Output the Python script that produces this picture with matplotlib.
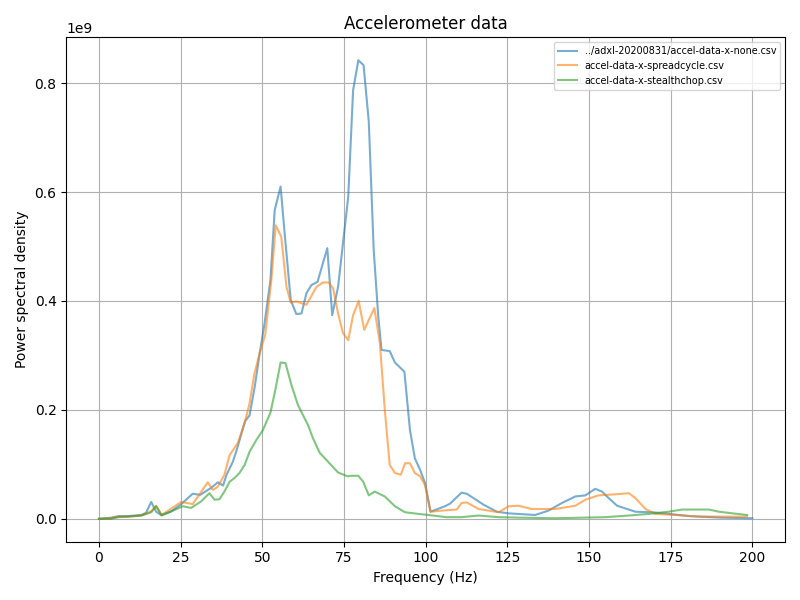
import numpy as np
import matplotlib
matplotlib.use("Agg")
import matplotlib.pyplot as plt

# values, PSD in units of 1e9
freq_none = [0, 3.7, 6, 9, 13, 14.4, 16, 17.5, 19, 22, 25, 28.7, 31, 34.4, 36.4, 38, 39, 41, 42.2,
             44.7, 46.1, 47.7, 49.2, 50.7, 52.5, 53.8, 55.6, 56.8, 58.7, 60.4, 62, 63.5, 65, 66.9,
             69.9, 71.4, 73.2, 74.7, 76.3, 77.8, 79.4, 81, 82.6, 84.1, 85.5, 86.5, 89, 90.6, 93.5,
             95.2, 96.7, 98.3, 99.8, 101.5, 105.9, 107.5, 111, 112.6, 117.7, 121.8, 125.4, 133.5,
             137.6, 141.7, 145.8, 148.9, 151.9, 154, 155.5, 158.6, 164.2, 169.3, 174.4, 180.6,
             190.8, 200]
psd_none = [0, 0.002, 0.005, 0.005, 0.007, 0.011, 0.031, 0.013, 0.007, 0.013, 0.026, 0.046, 0.044,
            0.057, 0.067, 0.061, 0.08, 0.105, 0.127, 0.179, 0.19, 0.243, 0.304, 0.359, 0.439, 0.567,
            0.61, 0.527, 0.402, 0.376, 0.377, 0.414, 0.429, 0.435, 0.497, 0.374, 0.426, 0.506,
            0.591, 0.787, 0.842, 0.833, 0.729, 0.494, 0.371, 0.31, 0.308, 0.287, 0.27, 0.163,
            0.111, 0.09, 0.066, 0.013, 0.023, 0.028, 0.048, 0.046, 0.026, 0.013, 0.01, 0.007,
            0.015, 0.029, 0.041, 0.043, 0.055, 0.05, 0.041, 0.024, 0.013, 0.012, 0.009, 0.005,
            0.002, 0.001]

freq_spread = [0, 3.7, 6, 9, 13, 16, 17.5, 19.2, 25.2, 28.7, 33.3, 34.9, 36.4, 38.4, 40, 42.5, 44.6,
               46.1, 47.6, 49.2, 50.9, 52.8, 54.1, 55.8, 57.4, 58.7, 60.4, 63.5, 66.6, 68.6, 70.3,
               71.7, 73.2, 74.7, 76.3, 77.8, 79.5, 81.2, 84.3, 86, 87.5, 89, 90.6, 92.4, 93.7, 95.2,
               96.7, 98.3, 99.8, 101.5, 104.9, 109.5, 111, 112.6, 116.2, 122.3, 125.4, 128.4,
               132.5, 139.7, 145.8, 148.9, 152.9, 158.1, 162.2, 164.2, 167.3, 170.3, 176.5, 183.6,
               198.4]
psd_spread = [0, 0.001, 0.004, 0.004, 0.006, 0.014, 0.024, 0.007, 0.031, 0.027, 0.067, 0.053, 0.059,
              0.081, 0.117, 0.139, 0.176, 0.212, 0.267, 0.304, 0.338, 0.44, 0.539, 0.518, 0.426,
              0.397, 0.399, 0.393, 0.426, 0.434, 0.434, 0.423, 0.377, 0.341, 0.328, 0.374, 0.4,
              0.347, 0.387, 0.322, 0.2, 0.099, 0.084, 0.081, 0.102, 0.102, 0.084, 0.078, 0.062,
              0.013, 0.015, 0.017, 0.029, 0.03, 0.018, 0.012, 0.023, 0.024, 0.018, 0.018, 0.024,
              0.035, 0.043, 0.045, 0.047, 0.038, 0.018, 0.009, 0.007, 0.004, 0.004]

freq_stealth = [0, 3.7, 6, 9, 13, 16, 17.5, 19.2, 25.7, 28.2, 31.3, 33.8, 35.4, 36.9, 38.4, 40,
                41.5, 43, 44.6, 46.1, 48.2, 50.2, 52.5, 54, 55.6, 57.1, 58.9, 60.9, 64, 65.5, 67.6,
                70.1, 73.2, 76.1, 77.3, 79.4, 80.9, 82.6, 84.4, 87.5, 90.6, 93.7, 97.8, 100.8,
                106.4, 111, 116.2, 122.3, 129.4, 139.7, 155, 162.2, 168.3, 174.4, 178.5, 182.6,
                186.7, 189.8, 193.9, 198.4]
psd_stealth = [0, 0, 0.003, 0.004, 0.006, 0.012, 0.023, 0.006, 0.023, 0.02, 0.032, 0.047, 0.035,
               0.036, 0.05, 0.068, 0.075, 0.084, 0.099, 0.123, 0.145, 0.163, 0.195, 0.237, 0.287,
               0.286, 0.246, 0.209, 0.172, 0.148, 0.121, 0.105, 0.085, 0.078, 0.079, 0.079, 0.068,
               0.043, 0.05, 0.041, 0.023, 0.012, 0.009, 0.007, 0.003, 0.003, 0.006, 0.003, 0.002,
               0.001, 0.003, 0.006, 0.009, 0.013, 0.017, 0.017, 0.017, 0.013, 0.01, 0.007]

labels = ["../adxl-20200831/accel-data-x-none.csv",
          "accel-data-x-spreadcycle.csv",
          "accel-data-x-stealthchop.csv"]

fig, ax = plt.subplots(figsize=(8, 6), dpi=100)
ax.set_title("Accelerometer data")
ax.set_xlabel("Frequency (Hz)")
ax.set_ylabel("Power spectral density")
ax.grid()

series = [(freq_none, psd_none), (freq_spread, psd_spread), (freq_stealth, psd_stealth)]
for (f, p), lab in zip(series, labels):
    ax.plot(f, np.array(p) * 1e9, label=lab, alpha=0.6)

# offset as 1e9 like the original
ax.ticklabel_format(axis="y", style="sci", scilimits=(9, 9))
ax.legend(loc="best", prop={"size": "x-small"})
fig.tight_layout()
fig.savefig("out.png")
